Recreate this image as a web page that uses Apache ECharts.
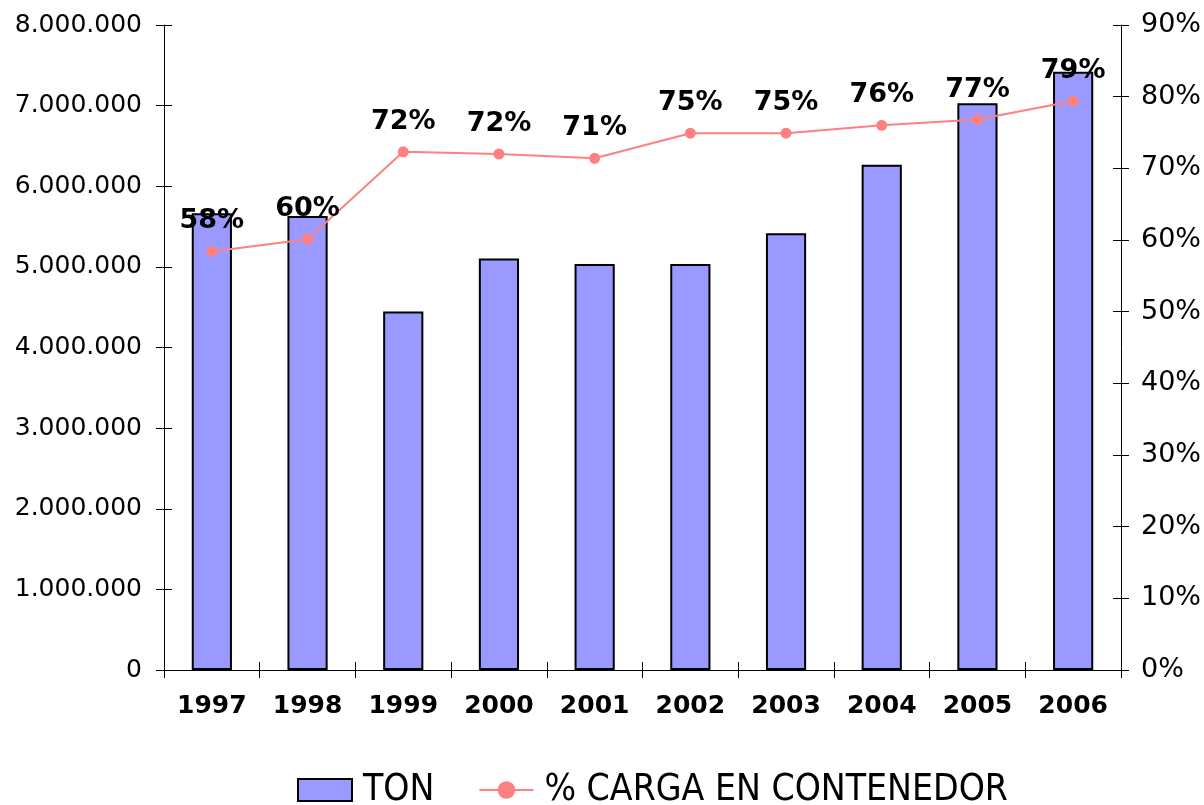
<!DOCTYPE html>
<html>
<head>
<meta charset="utf-8">
<script src="https://cdn.jsdelivr.net/npm/echarts@6/dist/echarts.min.js"></script>
<style>
  html, body { margin: 0; padding: 0; background: #fff; }
  #chart { width: 1204px; height: 805px; }
</style>
</head>
<body>
<div id="chart"></div>
<script>
const years = ['1997', '1998', '1999', '2000', '2001', '2002', '2003', '2004', '2005', '2006']
const tons = [5665000, 5630000, 4445000, 5104000, 5036000, 5036000, 5416000, 6267000, 7029000, 7420000]
const pctContainer = [58.4, 60.1, 72.3, 72.0, 71.4, 74.9, 74.9, 76.0, 76.8, 79.4]

const font = 'DejaVu Sans, Verdana, sans-serif'
const fmtThousands = v => String(v).replace(/\B(?=(\d{3})+(?!\d))/g, '.')

const chart = echarts.init(document.getElementById('chart'))

// ticks in the reference cross the axis, so a second set of axes draws the inner half
const tickStyle = { color: '#000', width: 1 }

const option = {
  animation: false,
  backgroundColor: '#fff',
  grid: { left: 164, right: 83, top: 25, bottom: 135 },
  legend: {
    top: 764,
    left: 292,
    itemGap: 44,
    itemWidth: 54,
    itemHeight: 22,
    textStyle: {
      fontFamily: 'DejaVu Sans Condensed, DejaVu Sans, sans-serif',
      fontSize: 37, lineHeight: 42, color: '#000', padding: [0, 0, 0, 6]
    },
    data: [
      { name: 'TON', icon: 'rect' },
      { name: '% CARGA EN CONTENEDOR' }
    ]
  },
  xAxis: [
    {
      type: 'category',
      data: years,
      axisLine: { lineStyle: { color: '#000', width: 1 } },
      axisTick: { show: true, length: 8, lineStyle: tickStyle },
      axisLabel: { margin: 24, fontFamily: font, fontWeight: 'bold', fontSize: 25, color: '#000' }
    },
    {
      type: 'category',
      data: years,
      position: 'bottom',
      axisLine: { show: false },
      axisTick: { show: true, inside: true, length: 8, lineStyle: tickStyle },
      axisLabel: { show: false }
    }
  ],
  yAxis: [
    {
      type: 'value',
      min: 0, max: 8000000, interval: 1000000,
      position: 'left',
      splitLine: { show: false },
      axisLine: { show: true, lineStyle: { color: '#000' } },
      axisTick: { show: true, length: 8, lineStyle: tickStyle },
      axisLabel: { margin: 22, fontFamily: font, fontSize: 25, color: '#000', formatter: fmtThousands }
    },
    {
      type: 'value',
      min: 0, max: 90, interval: 10,
      position: 'right',
      splitLine: { show: false },
      axisLine: { show: true, lineStyle: { color: '#000' } },
      axisTick: { show: true, length: 8, lineStyle: tickStyle },
      axisLabel: { margin: 20, fontFamily: font, fontSize: 27, color: '#000', formatter: '{value}%' }
    },
    {
      type: 'value',
      min: 0, max: 8000000, interval: 1000000,
      position: 'left',
      splitLine: { show: false },
      axisLine: { show: false },
      axisTick: { show: true, inside: true, length: 8, lineStyle: tickStyle },
      axisLabel: { show: false }
    },
    {
      type: 'value',
      min: 0, max: 90, interval: 10,
      position: 'right',
      splitLine: { show: false },
      axisLine: { show: false },
      axisTick: { show: true, inside: true, length: 8, lineStyle: tickStyle },
      axisLabel: { show: false }
    }
  ],
  series: [
    {
      name: 'TON',
      type: 'bar',
      data: tons,
      barWidth: '42%',
      itemStyle: { color: '#9999FF', borderColor: '#000', borderWidth: 2 }
    },
    {
      name: '% CARGA EN CONTENEDOR',
      type: 'line',
      yAxisIndex: 1,
      data: pctContainer,
      symbol: 'circle',
      symbolSize: 11,
      z: 5,
      lineStyle: { color: '#FF8080', width: 2 },
      itemStyle: { color: '#FF8080' },
      label: {
        show: true,
        position: 'top',
        distance: 11,
        fontFamily: font,
        fontWeight: 'bold',
        fontSize: 27,
        color: '#000',
        formatter: p => Math.round(p.value) + '%'
      }
    }
  ]
}

chart.setOption(option)
</script>
</body>
</html>
